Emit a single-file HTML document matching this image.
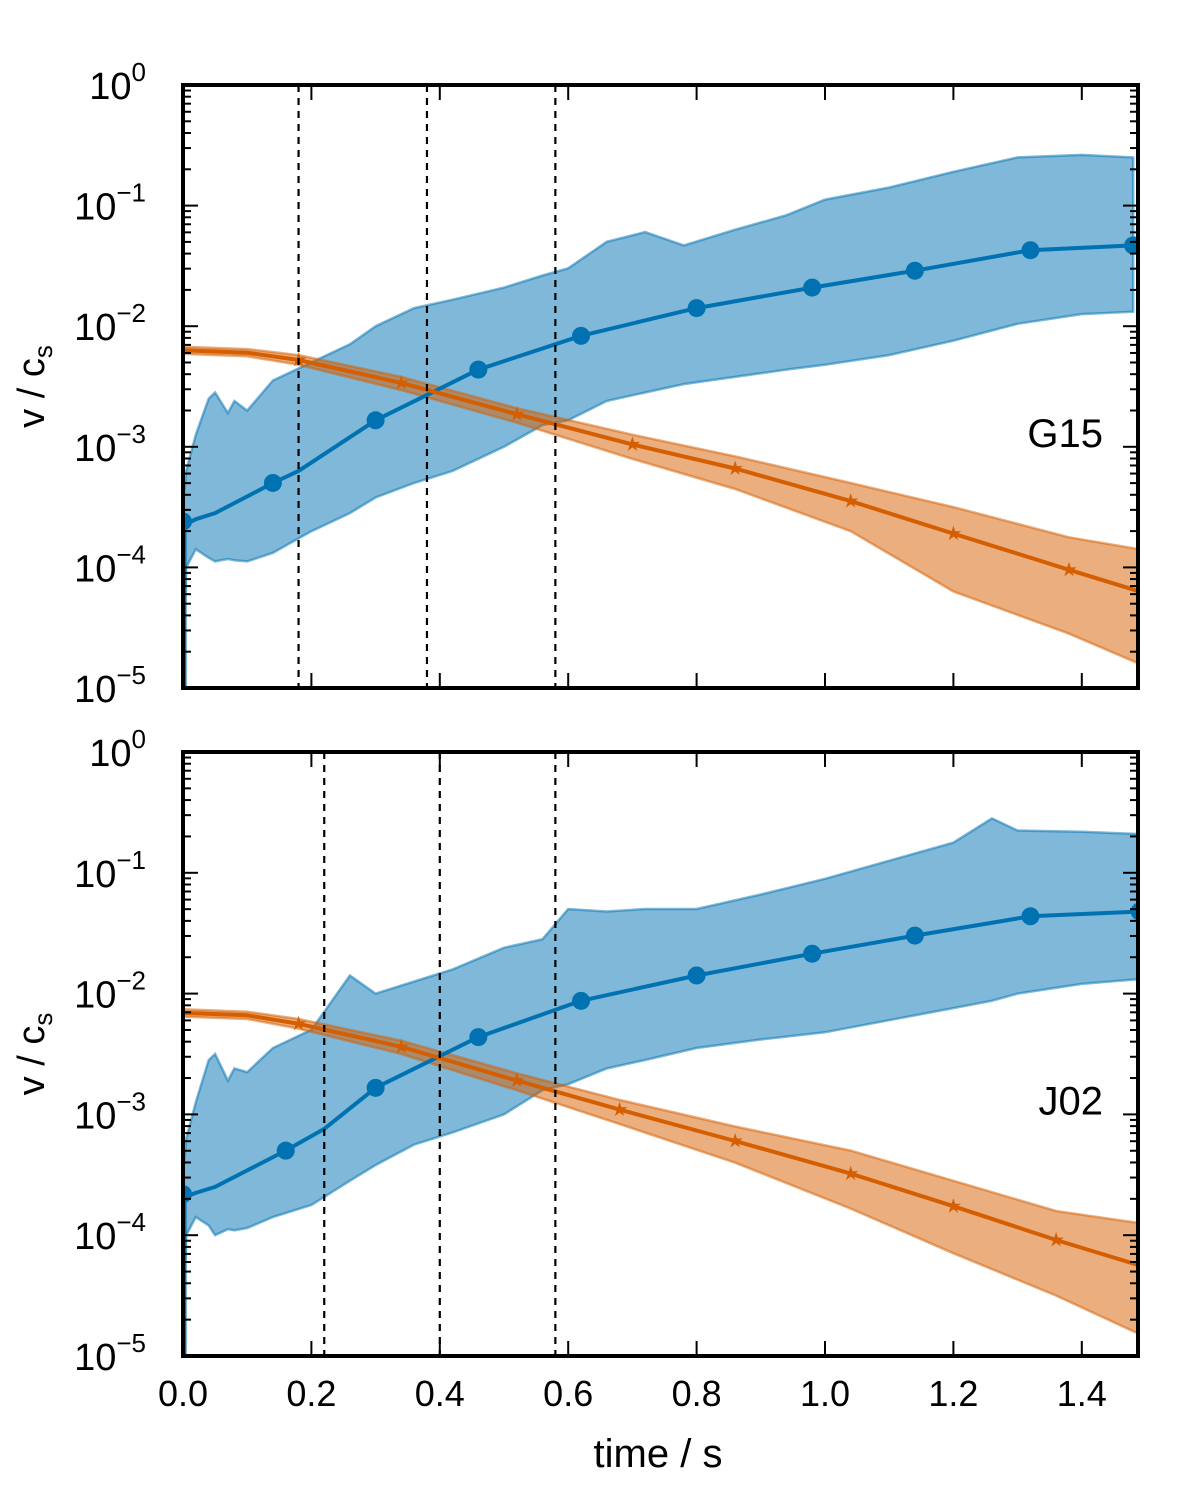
<!DOCTYPE html>
<html><head><meta charset="utf-8"><style>
body{margin:0;background:#fff}
svg text{font-family:"Liberation Sans",sans-serif;fill:#000}
</style></head><body>
<svg id="fig" width="1200" height="1500" viewBox="0 0 1200 1500" xmlns="http://www.w3.org/2000/svg"></svg>
<script>
// ---- data (log10 values of v/cs) ----
const panelLabels = ["G15","J02"];
const vlinesTop = [0.18,0.38,0.58];
const vlinesBot = [0.22,0.40,0.58];
const xTicks = [0.0,0.2,0.4,0.6,0.8,1.0,1.2,1.4];
const yDecades = [0,-1,-2,-3,-4,-5];

const blueT_top = [0,0.005,0.02,0.05,0.14,0.18,0.3,0.46,0.62,0.8,0.98,1.14,1.32,1.48];
const blueMed_top = [-3.62,-3.64,-3.6,-3.55,-3.3,-3.2,-2.78,-2.36,-2.08,-1.85,-1.68,-1.54,-1.37,-1.33];
const blueBT_top = [0,0.005,0.02,0.04,0.05,0.07,0.08,0.1,0.14,0.2,0.26,0.3,0.36,0.42,0.5,0.56,0.6,0.66,0.72,0.78,0.86,0.94,1.0,1.1,1.2,1.3,1.4,1.48];
const blueUp_top = [-3.5,-3.2,-2.9,-2.6,-2.55,-2.72,-2.62,-2.7,-2.45,-2.3,-2.15,-2.0,-1.85,-1.78,-1.68,-1.58,-1.52,-1.3,-1.22,-1.33,-1.2,-1.08,-0.95,-0.85,-0.72,-0.6,-0.58,-0.6];
const blueLo_top = [-5,-4.0,-3.85,-3.92,-3.95,-3.93,-3.94,-3.95,-3.88,-3.7,-3.55,-3.42,-3.3,-3.2,-3.0,-2.82,-2.78,-2.62,-2.55,-2.48,-2.42,-2.36,-2.32,-2.24,-2.12,-1.98,-1.9,-1.88];
const orT_top = [0,0.1,0.18,0.34,0.52,0.7,0.86,1.04,1.2,1.38,1.49];
const orMed_top = [-2.2,-2.22,-2.28,-2.47,-2.73,-2.98,-3.18,-3.45,-3.72,-4.02,-4.2];
const orUp_top = [-2.17,-2.19,-2.24,-2.42,-2.68,-2.9,-3.08,-3.3,-3.5,-3.75,-3.85];
const orLo_top = [-2.23,-2.25,-2.32,-2.53,-2.8,-3.1,-3.35,-3.7,-4.2,-4.55,-4.8];
const blueMarkT_top = [0,0.14,0.3,0.46,0.62,0.8,0.98,1.14,1.32,1.48];
const orMarkT_top = [0.18,0.34,0.52,0.7,0.86,1.04,1.2,1.38];

const blueT_bot = [0,0.005,0.02,0.05,0.16,0.22,0.3,0.46,0.62,0.8,0.98,1.14,1.32,1.49];
const blueMed_bot = [-3.66,-3.68,-3.65,-3.6,-3.3,-3.12,-2.78,-2.36,-2.06,-1.85,-1.67,-1.52,-1.36,-1.32];
const blueBT_bot = [0,0.005,0.02,0.04,0.05,0.07,0.08,0.1,0.14,0.2,0.26,0.3,0.36,0.42,0.5,0.56,0.6,0.66,0.72,0.8,0.9,1.0,1.1,1.2,1.26,1.3,1.4,1.49];
const blueUp_bot = [-3.5,-3.2,-2.9,-2.55,-2.5,-2.72,-2.62,-2.65,-2.45,-2.3,-1.85,-2.0,-1.9,-1.8,-1.62,-1.55,-1.3,-1.32,-1.3,-1.3,-1.18,-1.05,-0.9,-0.75,-0.55,-0.65,-0.66,-0.68];
const blueLo_bot = [-5,-4.0,-3.85,-3.92,-4.0,-3.95,-3.96,-3.94,-3.85,-3.75,-3.55,-3.42,-3.25,-3.15,-3.0,-2.8,-2.75,-2.62,-2.55,-2.45,-2.38,-2.32,-2.22,-2.12,-2.06,-2.0,-1.92,-1.88];
const orT_bot = [0,0.1,0.18,0.34,0.52,0.68,0.86,1.04,1.2,1.36,1.49];
const orMed_bot = [-2.16,-2.18,-2.25,-2.44,-2.72,-2.96,-3.22,-3.49,-3.76,-4.04,-4.25];
const orUp_bot = [-2.13,-2.15,-2.21,-2.39,-2.66,-2.88,-3.1,-3.3,-3.55,-3.8,-3.9];
const orLo_bot = [-2.19,-2.21,-2.29,-2.5,-2.8,-3.08,-3.4,-3.78,-4.15,-4.5,-4.82];
const blueMarkT_bot = [0,0.16,0.3,0.46,0.62,0.8,0.98,1.14,1.32,1.49];
const orMarkT_bot = [0.18,0.34,0.52,0.68,0.86,1.04,1.2,1.36];

// ---- drawing ----
const NS="http://www.w3.org/2000/svg";
const svg=document.getElementById('fig');
const X0=183, XR=1138, XS=642;
function xs(t){return X0+t*XS;}
function mk(tag,attrs,parent){const e=document.createElementNS(NS,tag);for(const k in attrs)e.setAttribute(k,attrs[k]);(parent||svg).appendChild(e);return e;}
function interp(T,V,t){if(t<=T[0])return V[0];for(let i=1;i<T.length;i++){if(t<=T[i]){const f=(t-T[i-1])/(T[i]-T[i-1]);return V[i-1]+f*(V[i]-V[i-1]);}}return V[V.length-1];}

function panel(top,bottom,d,label,idx){
  const g=mk('g',{});
  
  
  const dec=(bottom-top)/5;
  const ys=v=>top-v*dec;
  const clipId='clip'+idx;
  const cp=mk('clipPath',{id:clipId},g);mk('rect',{x:X0,y:top,width:XR-X0,height:bottom-top},cp);
  const pg=mk('g',{'clip-path':'url(#'+clipId+')'},g);
  function band(T,U,BT,L,col,name){
    let p='';T.forEach((t,i)=>{p+=(i?'L':'M')+xs(t).toFixed(1)+','+ys(U[i]).toFixed(1);});
    for(let i=BT.length-1;i>=0;i--)p+='L'+xs(BT[i]).toFixed(1)+','+ys(L[i]).toFixed(1);
    p+='Z';
    const e=mk('path',{d:p,fill:col,'fill-opacity':0.5,stroke:col,'stroke-opacity':0.5,'stroke-width':2.5},pg);
    
    
  }
  band(d.bBT,d.bUp,d.bBT,d.bLo,'#0072B2','blue-band');
  band(d.oT,d.oUp,d.oT,d.oLo,'#D55E00','orange-band');
  function line(T,V,col,name){
    let p='';T.forEach((t,i)=>{p+=(i?'L':'M')+xs(t).toFixed(1)+','+ys(V[i]).toFixed(1);});
    const e=mk('path',{d:p,fill:'none',stroke:col,'stroke-width':4,'stroke-linejoin':'round'},pg);
    
    
  }
  line(d.bT,d.bMed,'#0072B2','blue-median-line');
  line(d.oT,d.oMed,'#D55E00','orange-median-line');
  d.bMk.forEach(t=>{
    const c=mk('circle',{cx:xs(t),cy:ys(interp(d.bT,d.bMed,t)),r:9,fill:'#0072B2'},pg);
    
    
  });
  d.oMk.forEach(t=>{
    const cx=xs(t),cy=ys(interp(d.oT,d.oMed,t));let p='';
    for(let k=0;k<10;k++){const r=k%2?3:8,a=-Math.PI/2+k*Math.PI/5;p+=(k?'L':'M')+(cx+r*Math.cos(a)).toFixed(1)+','+(cy+r*Math.sin(a)).toFixed(1);}
    const s=mk('path',{d:p+'Z',fill:'#D55E00'},pg);
    
    
  });
  const ed=mk('line',{x1:X0+2,y1:ys(d.bMed[0]),x2:X0+2,y2:bottom,stroke:'#0072B2','stroke-width':3},pg);
  
  
  d.vl.forEach(t=>{
    const l=mk('line',{x1:xs(t),y1:top,x2:xs(t),y2:bottom,stroke:'#000','stroke-width':2.2,'stroke-dasharray':'7,6'},g);
    
    
  });
  for(let k=0;k<5;k++){for(let m=2;m<=9;m++){const y=ys(-k-1+Math.log10(m));
    mk('line',{x1:X0,y1:y,x2:X0+8,y2:y,stroke:'#000','stroke-width':2},g);
    mk('line',{x1:XR,y1:y,x2:XR-8,y2:y,stroke:'#000','stroke-width':2},g);}}
  yDecades.forEach(v=>{const y=ys(v);
    mk('line',{x1:X0,y1:y,x2:X0+15,y2:y,stroke:'#000','stroke-width':2},g);
    mk('line',{x1:XR,y1:y,x2:XR-15,y2:y,stroke:'#000','stroke-width':2},g);
    const tx=mk('text',{x:146,y:y+14,'font-size':38,'text-anchor':'end'},g);
    
    
    tx.textContent='10';
    const sp=mk('tspan',{dy:-18,'font-size':26},tx);sp.textContent=v===0?'0':'\u2212'+(-v);
  });
  xTicks.forEach(t=>{const x=xs(t);
    mk('line',{x1:x,y1:top,x2:x,y2:top+15,stroke:'#000','stroke-width':2},g);
    mk('line',{x1:x,y1:bottom,x2:x,y2:bottom-15,stroke:'#000','stroke-width':2},g);
  });
  const fr=mk('rect',{x:X0,y:top,width:XR-X0,height:bottom-top,fill:'none',stroke:'#000','stroke-width':4},g);
  
  
  const lb=mk('text',{x:1103,y:top+(bottom-top)*0.6,'font-size':40,'text-anchor':'end'},g);
  
  
  lb.textContent=label;
  const yl=mk('text',{transform:'translate(44,'+((top+bottom)/2)+') rotate(-90)','font-size':38,'text-anchor':'middle'},g);
  
  
  yl.textContent='v / c';
  const ys2=mk('tspan',{'font-size':26,dy:8},yl);ys2.textContent='s';
}
panel(85,688,{bT:blueT_top,bMed:blueMed_top,bBT:blueBT_top,bUp:blueUp_top,bLo:blueLo_top,oT:orT_top,oMed:orMed_top,oUp:orUp_top,oLo:orLo_top,bMk:blueMarkT_top,oMk:orMarkT_top,vl:vlinesTop},panelLabels[0],0);
panel(752,1356,{bT:blueT_bot,bMed:blueMed_bot,bBT:blueBT_bot,bUp:blueUp_bot,bLo:blueLo_bot,oT:orT_bot,oMed:orMed_bot,oUp:orUp_bot,oLo:orLo_bot,bMk:blueMarkT_bot,oMk:orMarkT_bot,vl:vlinesBot},panelLabels[1],1);
xTicks.forEach(t=>{
  const tx=mk('text',{x:xs(t),y:1406,'font-size':36,'text-anchor':'middle'});
  
  
  tx.textContent=t.toFixed(1);
});
const xl=mk('text',{x:658,y:1467,'font-size':40,'text-anchor':'middle'});


xl.textContent='time / s';
</script>
</body></html>
